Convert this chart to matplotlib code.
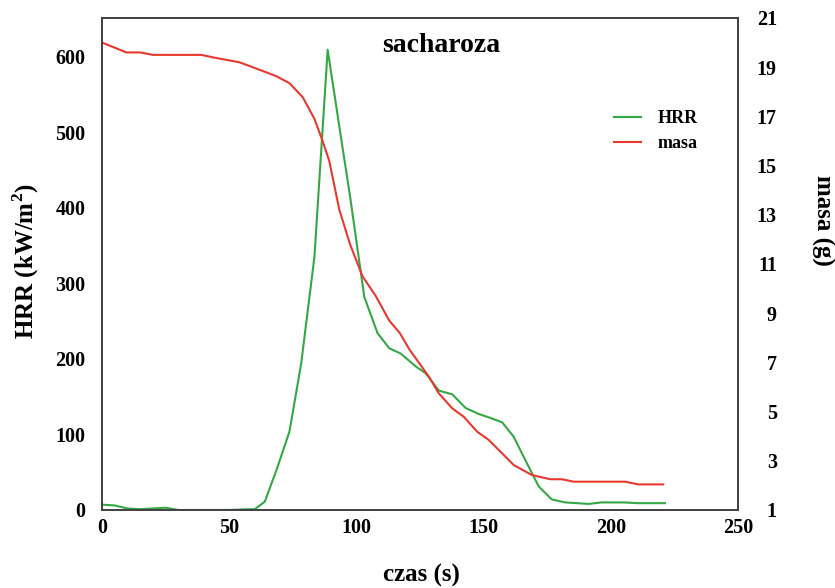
import numpy as np
import matplotlib.pyplot as plt

# --- dane ---
czas_hrr = [0, 5, 10, 15, 20, 25, 30, 40, 50, 58, 60, 64, 68.8, 73.7, 78.3, 83.5, 88.7,
            93.3, 97.5, 103.1, 108.3, 112.9, 117.4, 123.3, 127.2, 132.4, 137.7, 142.9,
            148.1, 152.5, 157.3, 161.8, 167, 171.7, 176.8, 182, 191.2, 196.4, 205,
            210.8, 221.3]
hrr = [7, 6, 2, 1, 2, 3, 0, 0, 0, 1, 1, 11, 55, 104, 194, 335, 609,
       507, 415, 282, 234, 214, 207, 190, 181, 158, 153, 135,
       127, 122, 116, 97, 62, 31, 14, 10, 8, 10, 10,
       9, 9]

czas_masa = [0, 9.6, 15, 20, 39, 43.6, 54, 60.5, 68.4, 73.7, 78.9, 83.5, 86.7, 89.3,
             93.3, 97.5, 102.4, 107.6, 112.9, 117, 121, 128.5, 132.4, 137.7, 142.2,
             147.5, 152, 161.8, 169, 176.2, 180.7, 185.4, 205.6, 210.8, 220.6]
masa = [20.0, 19.6, 19.6, 19.5, 19.5, 19.4, 19.2, 18.95, 18.64, 18.35, 17.78, 16.9, 16.0, 15.2,
        13.2, 11.8, 10.5, 9.7, 8.7, 8.2, 7.5, 6.42, 5.74, 5.13, 4.79,
        4.18, 3.85, 2.83, 2.42, 2.25, 2.25, 2.15, 2.15, 2.04, 2.04]

plt.rcParams['font.family'] = ['Liberation Serif', 'DejaVu Serif']
plt.rcParams['font.weight'] = 'bold'
plt.rcParams['mathtext.fontset'] = 'custom'
plt.rcParams['mathtext.bf'] = 'Liberation Serif:bold'

fig = plt.figure(figsize=(8.35, 5.88), dpi=100)
ax = fig.add_axes([0.1222, 0.1327, 0.7616, 0.8367])
ax2 = ax.twinx()

green = '#35a846'
red = '#e8392f'

l1, = ax.plot(czas_hrr, hrr, color=green, linewidth=1.5, label='HRR')
l2, = ax2.plot(czas_masa, masa, color=red, linewidth=1.5, label='masa')

ax.set_xlim(0, 250)
ax.set_ylim(0, 651)
ax2.set_ylim(1, 21)
ax.set_xticks(np.arange(0, 251, 50))
ax.set_yticks(np.arange(0, 601, 100))
ax2.set_yticks(np.arange(1, 22, 2))

ax.tick_params(axis='both', length=0, labelsize=14.5)
ax.tick_params(axis='y', pad=12)
ax.tick_params(axis='x', pad=6)
ax2.tick_params(axis='y', length=0, labelsize=14.5, pad=28)
for lbl in ax2.get_yticklabels():
    lbl.set_horizontalalignment('right')

for a in (ax, ax2):
    for s in a.spines.values():
        s.set_color('#404040')
        s.set_linewidth(1.2)

fig.text(0.031, 0.556, 'HRR (kW/m$^\\mathbf{2}$)', rotation=90, ha='center', va='center',
         fontsize=18, fontweight='bold')
fig.text(0.985, 0.625, 'masa (g)', rotation=-90, ha='center', va='center',
         fontsize=18, fontweight='bold')
fig.text(0.505, 0.022, 'czas (s)', ha='center', va='center', fontsize=18, fontweight='bold')
ax.text(0.534, 0.945, 'sacharoza', transform=ax.transAxes, ha='center', va='center',
        fontsize=20, fontweight='bold')

ax.legend(handles=[l1, l2], loc='center left', bbox_to_anchor=(0.78, 0.77), frameon=False,
          fontsize=13, handlelength=1.5, handletextpad=0.9, labelspacing=0.45)

fig.savefig('out.png', dpi=100)
